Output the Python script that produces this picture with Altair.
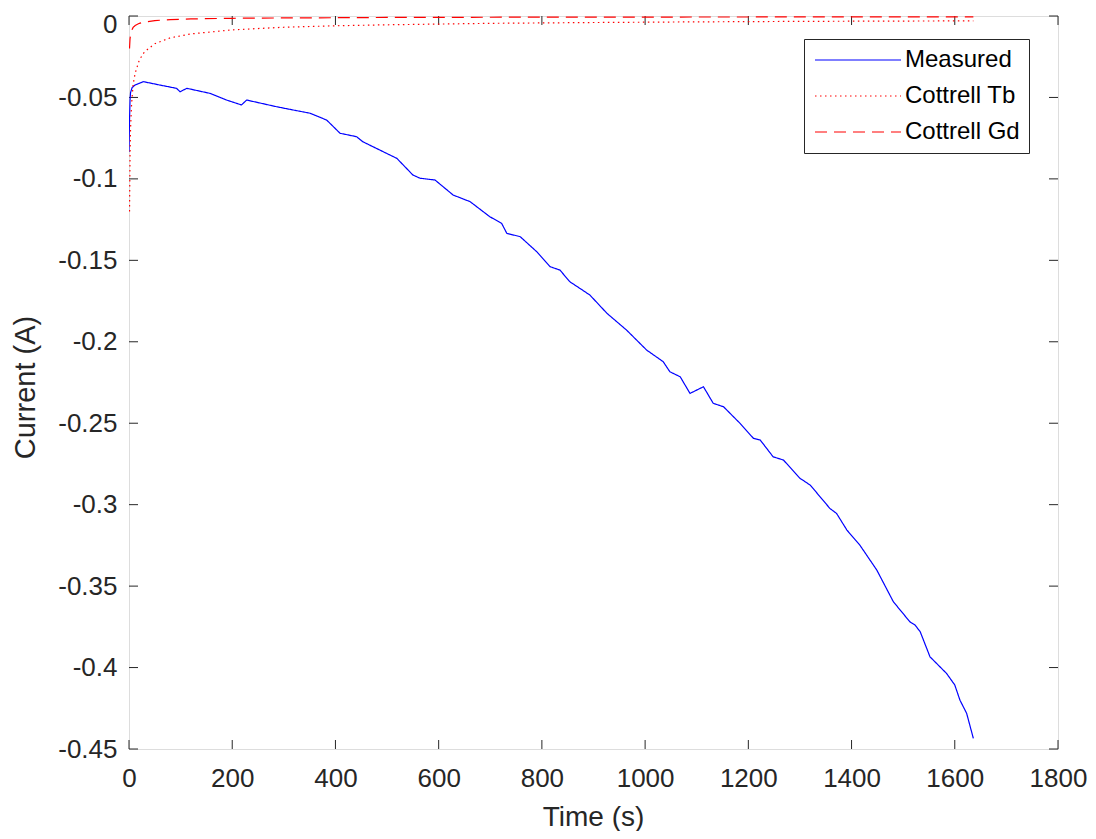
import altair as alt
import pandas as pd

# Measured current
meas_t = [0, 1, 2, 3, 6, 11.6, 27.7, 60, 92, 99, 112, 157, 189, 218, 228, 286, 318, 351, 383,
          409, 441, 453, 486, 519, 550, 564, 593, 628, 661, 699, 722, 732, 758, 790, 816, 835,
          854, 893, 926, 964, 1003, 1035, 1048, 1068, 1087, 1113, 1132, 1152, 1184, 1210, 1223,
          1248, 1268, 1300, 1320, 1358, 1371, 1391, 1416, 1449, 1481, 1513, 1523, 1533, 1552,
          1584, 1600, 1610, 1623, 1636]
meas_i = [-0.0835, -0.0639, -0.0516, -0.047, -0.044, -0.0424, -0.0403, -0.0424, -0.0444, -0.0465,
          -0.0444, -0.0475, -0.0516, -0.0546, -0.0516, -0.0557, -0.0577, -0.0597, -0.0639,
          -0.0720, -0.0741, -0.0772, -0.0823, -0.0874, -0.0976, -0.0996, -0.1007, -0.1099,
          -0.1140, -0.1232, -0.1273, -0.1334, -0.1355, -0.1447, -0.1539, -0.1560, -0.1631,
          -0.1713, -0.1825, -0.1928, -0.2051, -0.2122, -0.2184, -0.2215, -0.2317, -0.2276,
          -0.2378, -0.2399, -0.2501, -0.2593, -0.2603, -0.2706, -0.2726, -0.2838, -0.2880,
          -0.3023, -0.3054, -0.3156, -0.3248, -0.3402, -0.3596, -0.3719, -0.3739, -0.3780,
          -0.3934, -0.4036, -0.4107, -0.4200, -0.4281, -0.4435]

# Cottrell Tb
tb_t = [1, 2, 3, 5, 8, 12, 20, 30, 50, 80, 120, 200, 300, 400, 500, 700, 900, 1100, 1300, 1500, 1636]
tb_i = [-0.12, -0.085, -0.069, -0.054, -0.042, -0.035, -0.027, -0.022, -0.017, -0.0134, -0.011,
        -0.0085, -0.0069, -0.006, -0.0054, -0.0045, -0.004, -0.0036, -0.0033, -0.0031, -0.003]

# Cottrell Gd
gd_t = [1, 2, 3, 5, 8, 12, 20, 30, 50, 80, 120, 200, 300, 500, 800, 1200, 1636]
gd_i = [-0.02, -0.014, -0.0115, -0.009, -0.007, -0.0058, -0.0045, -0.0037, -0.0028, -0.0022,
        -0.0018, -0.0014, -0.0012, -0.0009, -0.0007, -0.0006, -0.0005]

series_names = ["Measured", "Cottrell Tb", "Cottrell Gd"]
x_ticks = [0, 200, 400, 600, 800, 1000, 1200, 1400, 1600, 1800]
y_ticks = [-0.45, -0.4, -0.35, -0.3, -0.25, -0.2, -0.15, -0.1, -0.05, 0]

rows = []
for t, v in zip(meas_t, meas_i):
    rows.append({"t": t, "i": v, "s": series_names[0]})
for t, v in zip(tb_t, tb_i):
    rows.append({"t": t, "i": v, "s": series_names[1]})
for t, v in zip(gd_t, gd_i):
    rows.append({"t": t, "i": v, "s": series_names[2]})
df = pd.DataFrame(rows)

W, H = 929, 733
FONT = "Liberation Sans"
AX = "#262626"

xscale = alt.Scale(domain=[0, 1800], nice=False, zero=False)
yscale = alt.Scale(domain=[-0.45, 0], nice=False, zero=False)

lines = alt.Chart(df).mark_line(strokeWidth=1.2, clip=True).encode(
    x=alt.X("t:Q", scale=xscale, title="Time (s)",
            axis=alt.Axis(values=x_ticks, tickSize=0, domain=False, grid=False,
                          labelFlush=False, labelOverlap=False,
                          labelFontSize=26, labelPadding=16, labelColor=AX, labelFont=FONT,
                          labelExpr="'' + datum.value",
                          titleFontSize=28, titleFont=FONT, titleColor=AX, titleFontWeight="normal",
                          titleX=464, titleY=76, titleBaseline="alphabetic")),
    y=alt.Y("i:Q", scale=yscale, title="Current (A)",
            axis=alt.Axis(values=y_ticks, tickSize=0, domain=False, grid=False,
                          labelFlush=False, labelOverlap=False,
                          labelBaseline={"condition": {"test": "datum.value == 0", "value": "top"}, "value": "middle"},
                          labelOffset={"condition": {"test": "datum.value == 0", "value": -5}, "value": 0},
                          labelFontSize=26, labelPadding=12, labelColor=AX, labelFont=FONT,
                          labelExpr="'' + datum.value",
                          titleFontSize=29, titleFont=FONT, titleColor=AX, titleFontWeight="normal",
                          titleX=-95, titleY=371, titleAngle=-90, titleAlign="center",
                          titleBaseline="alphabetic")),
    color=alt.Color("s:N", sort=series_names,
                    scale=alt.Scale(domain=series_names, range=["#0000FF", "#FF0000", "#FF0000"]),
                    legend=alt.Legend(title=None, orient="none", legendX=675, legendY=23,
                                      symbolType="M-1,0H7.6", symbolSize=400, symbolStrokeWidth=1.2,
                                      symbolFillColor="transparent",
                                      labelFontSize=24, labelFont=FONT, labelColor="#000000",
                                      padding=9, strokeColor=AX, fillColor="white",
                                      rowPadding=12, labelOffset=68)),
    strokeDash=alt.StrokeDash("s:N", sort=series_names,
                              scale=alt.Scale(domain=series_names, range=[[1, 0], [1.5, 3.5], [12, 7]]),
                              legend=None),
    detail="s:N",
    order="t:Q",
)

tick_x = pd.DataFrame({"v": x_ticks})
tick_y = pd.DataFrame({"v": y_ticks})

xb = alt.Chart(tick_x).mark_rule(color=AX, strokeWidth=1).encode(
    x=alt.X("v:Q", scale=xscale), y=alt.value(H), y2=alt.value(H - 9))
xt = alt.Chart(tick_x).mark_rule(color=AX, strokeWidth=1).encode(
    x=alt.X("v:Q", scale=xscale), y=alt.value(0), y2=alt.value(9))
yl = alt.Chart(tick_y).mark_rule(color=AX, strokeWidth=1).encode(
    y=alt.Y("v:Q", scale=yscale), x=alt.value(0), x2=alt.value(9))
yr = alt.Chart(tick_y).mark_rule(color=AX, strokeWidth=1).encode(
    y=alt.Y("v:Q", scale=yscale), x=alt.value(W), x2=alt.value(W - 9))

chart = alt.layer(xb, xt, yl, yr, lines).properties(
    width=W, height=H,
    autosize=alt.AutoSizeParams(type="none"),
    padding={"left": 121, "top": 8, "right": 30, "bottom": 82},
).configure_view(stroke=AX, strokeWidth=1).configure(background="white")

chart.save("out.html", embed_options={"renderer": "svg", "actions": False})
